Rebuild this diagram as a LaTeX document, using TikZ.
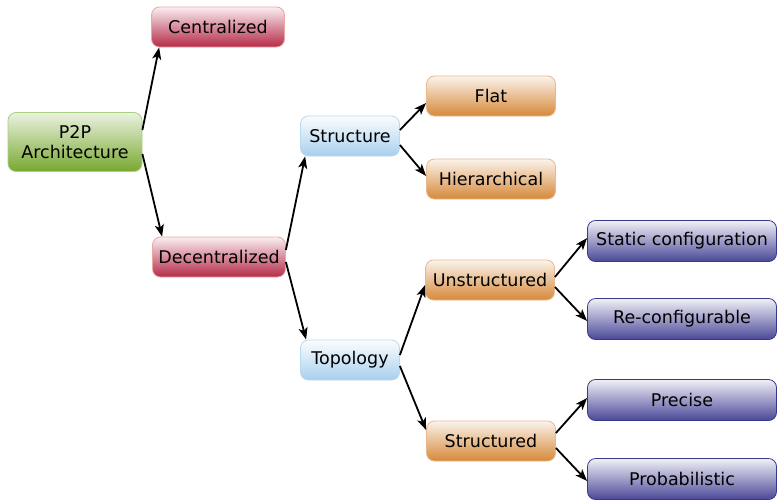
\documentclass[tikz,border=0pt]{standalone}
\usepackage{fontspec}
\setmainfont{DejaVu Sans}
\usepackage{tikz}
\usetikzlibrary{arrows.meta}
\definecolor{grnbot}{HTML}{78A830}
\definecolor{grnline}{HTML}{A8D080}
\definecolor{redbot}{HTML}{B52A48}
\definecolor{redline}{HTML}{E8A8A0}
\definecolor{blubot}{HTML}{A8D0EE}
\definecolor{bluline}{HTML}{B8D8EC}
\definecolor{orgbot}{HTML}{D6893A}
\definecolor{orgline}{HTML}{E8B890}
\definecolor{purbot}{HTML}{4A4898}
\definecolor{purline}{HTML}{3A3888}
\tikzstyle{box} = [rounded corners=8pt, font={\fontsize{17.5}{20}\selectfont}, align=center, line width=0.8pt, inner sep=2pt]
\tikzstyle{rootbox} = [box, draw=grnline, top color=white!85!grnbot, bottom color=grnbot, minimum width=134pt, minimum height=59pt]
\tikzstyle{catbox} = [box, draw=redline, top color=white!92!redbot, bottom color=redbot, minimum width=133pt, minimum height=40pt]
\tikzstyle{aspbox} = [box, draw=bluline, top color=white!95!blubot, bottom color=blubot, minimum width=99pt, minimum height=40pt]
\tikzstyle{kindbox} = [box, draw=orgline, top color=white!90!orgbot, bottom color=orgbot, minimum width=129pt, minimum height=40pt]
\tikzstyle{leafbox} = [box, draw=purline, top color=white!92!purbot, bottom color=purbot, minimum width=189pt, minimum height=41pt]
\tikzstyle{link} = [-{Stealth[length=12pt,width=9pt,inset=3pt]}, line width=1.8pt]

\begin{document}
\begin{tikzpicture}[x=1pt,y=-1pt]
    \useasboundingbox (0,0) rectangle (777,499);
    \node[rootbox](p2p) at (75,142){P2P\\Architecture};
    \node[catbox](cen) at (218,27){Centralized};
    \node[catbox](dec) at (219,257){Decentralized};
    \node[aspbox](str) at (350,136){Structure};
    \node[aspbox](top) at (350,360){Topology};
    \node[kindbox](flat) at (491,96){Flat};
    \node[kindbox](hier) at (491,179){Hierarchical};
    \node[kindbox](unst) at (490,280){Unstructured};
    \node[kindbox](stru) at (491,441){Structured};
    \node[leafbox](stat) at (682,241){Static configuration};
    \node[leafbox](reconf) at (682,319){Re-configurable};
    \node[leafbox](prec) at (682,400){Precise};
    \node[leafbox](prob) at (682,479){Probabilistic};
    \draw[link]([yshift=12pt]p2p.east)--([xshift=8pt]cen.south west);
    \draw[link]([yshift=-12pt]p2p.east)--([xshift=10pt]dec.north west);
    \draw[link]([yshift=7pt]dec.east)--([xshift=5pt]str.south west);
    \draw[link]([yshift=-5pt]dec.east)--([xshift=6pt]top.north west);
    \draw[link]([yshift=6pt]str.east)--([yshift=-7pt]flat.west);
    \draw[link]([yshift=-9pt]str.east)--([yshift=3pt]hier.west);
    \draw[link]([yshift=5pt]top.east)--([yshift=-5pt]unst.west);
    \draw[link]([yshift=-6pt]top.east)--([yshift=11pt]stru.west);
    \draw[link]([yshift=3pt]unst.east)--([yshift=3pt]stat.west);
    \draw[link]([yshift=-7pt]unst.east)--([yshift=-2pt]reconf.west);
    \draw[link]([yshift=8pt]stru.east)--([yshift=2pt]prec.west);
    \draw[link]([yshift=-7pt]stru.east)--([yshift=-2pt]prob.west);
  \end{tikzpicture}
\end{document}
